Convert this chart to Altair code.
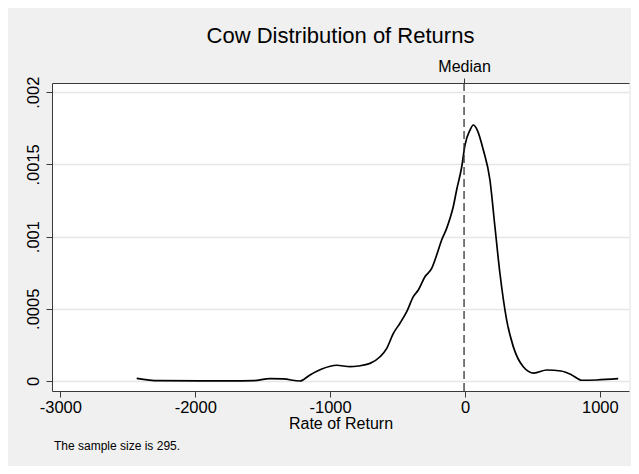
import altair as alt
import pandas as pd

# Kernel density curve
rate = [-2434, -2274, -1964, -1700, -1569, -1446, -1347, -1223, -1149, -1062, -951, -852, -791,
        -704, -630, -580, -531, -482, -432, -383, -346, -297, -247, -210, -173, -136, -111,
        -87, -62, -24, 0, 37, 62, 91, 136, 185, 222, 259, 309, 358, 432, 511, 606, 712, 791,
        865, 976, 1136]
density_e4 = [0.18, 0.02, 0.01, 0.01, 0.02, 0.16, 0.14, 0.0, 0.42, 0.83, 1.09, 0.99, 1.04,
              1.22, 1.68, 2.26, 3.30, 4.0, 4.8, 5.84, 6.3, 7.22, 7.8, 8.72, 9.76, 10.57, 11.27,
              12.07, 13.23, 14.84, 16.34, 17.38, 17.73, 17.38, 16.0, 13.92, 10.68, 7.46, 4.22,
              2.38, 0.99, 0.55, 0.76, 0.69, 0.42, 0.05, 0.07, 0.16]
density = [v / 10000 for v in density_e4]

median_value = [-7]
median_label = "Median"
x_ticks = [-3000, -2000, -1000, 0, 1000]
y_ticks = [0, 0.0005, 0.001, 0.0015, 0.002]
note = ["The sample size is 295."]

FONT = "Liberation Sans"
AX = "#3a3a3a"

df = pd.DataFrame({"x": rate, "y": density})
mdf = pd.DataFrame({"m": median_value})
ndf = pd.DataFrame({"t": note})

xscale = alt.Scale(domain=[-3062, 1216], nice=False, zero=False)
yscale = alt.Scale(domain=[-0.0000693, 0.0020637], nice=False, zero=False)

line = alt.Chart(df).mark_line(color="black", strokeWidth=1.7, interpolate="monotone").encode(
    x=alt.X("x:Q", scale=xscale,
            axis=alt.Axis(values=x_ticks, title="Rate of Return", grid=False,
                          domainColor=AX, tickColor=AX, tickSize=6, labelFontSize=16.5,
                          labelFont=FONT, labelColor="black", labelPadding=2,
                          labelExpr="'' + datum.value",
                          titleFont=FONT, titleFontSize=16, titleFontWeight="normal",
                          titleColor="black", titlePadding=0, labelFlush=False)),
    y=alt.Y("y:Q", scale=yscale,
            axis=alt.Axis(values=y_ticks, title=None, grid=True, gridColor="#E6E6E6",
                          gridWidth=1.5, domainColor=AX, tickColor=AX, tickSize=6,
                          labelFontSize=16.5, labelFont=FONT, labelColor="black",
                          labelAngle=270, labelAlign="center", labelBaseline="bottom",
                          labelPadding=5, labelFlush=False,
                          labelExpr="replace(format(datum.value, '~g'), '0.', '.')")),
)

rule = alt.Chart(mdf).mark_rule(color="#333333", strokeWidth=1.3, strokeDash=[8, 4]).encode(
    x=alt.X("m:Q", scale=xscale,
            axis=alt.Axis(orient="top", values=median_value, labelExpr=f"'{median_label}'",
                          title=None, grid=False, domainColor=AX, tickColor=AX, tickSize=5,
                          labelFontSize=16, labelFont=FONT, labelColor="black",
                          labelPadding=4, labelFlush=False)),
)

text = alt.Chart(ndf).mark_text(align="left", baseline="alphabetic", font=FONT, fontSize=12,
                                 color="black").encode(
    x=alt.value(2), y=alt.value(367), text="t:N")

chart = alt.layer(line, rule, text).resolve_axis(x="independent").properties(
    width=577, height=308,
    padding={"left": 44, "top": 75, "right": 2, "bottom": 75},
    autosize=alt.AutoSizeParams(type="none"),
    background="#F0F0F0",
    title=alt.TitleParams("Cow Distribution of Returns", font=FONT, fontSize=22,
                          fontWeight="normal", color="black", anchor="middle", offset=10),
).configure_view(fill="white", strokeWidth=0)

chart.save("out.html", embed_options={"renderer": "svg", "actions": False})
